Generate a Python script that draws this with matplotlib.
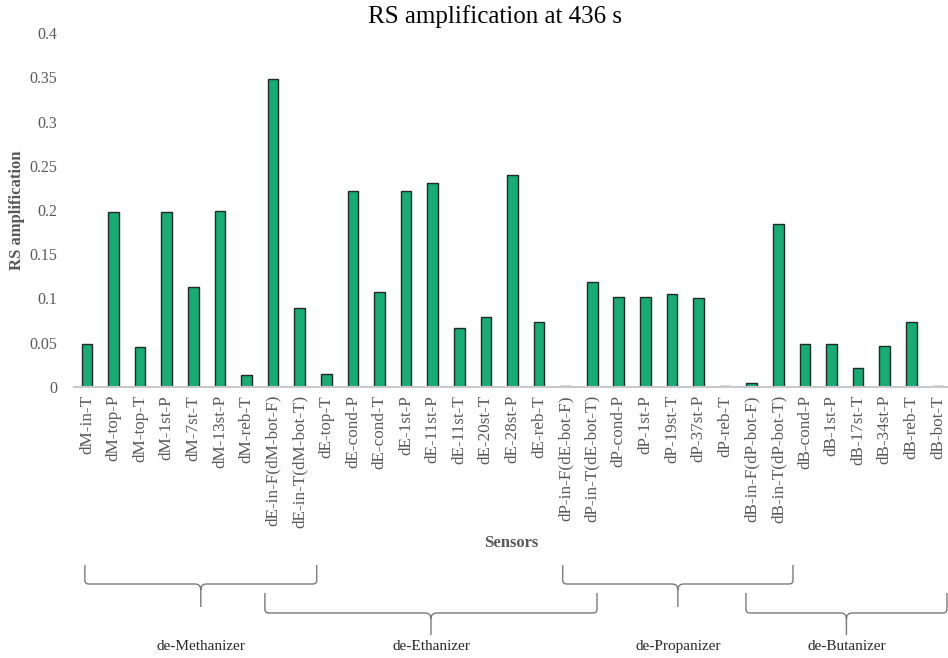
import matplotlib
matplotlib.use("Agg")
import matplotlib.pyplot as plt
import matplotlib.transforms as mtransforms
from matplotlib.path import Path
from matplotlib.patches import PathPatch
import numpy as np

plt.rcParams['font.family'] = ['Liberation Serif', 'DejaVu Serif']

# sensor names and RS amplification values
sensors = [
    "dM-in-T", "dM-top-P", "dM-top-T", "dM-1st-P", "dM-7st-T", "dM-13st-P",
    "dM-reb-T", "dE-in-F(dM-bot-F)", "dE-in-T(dM-bot-T)", "dE-top-T",
    "dE-cond-P", "dE-cond-T", "dE-1st-P", "dE-11st-P", "dE-11st-T",
    "dE-20st-T", "dE-28st-P", "dE-reb-T", "dP-in-F(dE-bot-F)",
    "dP-in-T(dE-bot-T)", "dP-cond-P", "dP-1st-P", "dP-19st-T", "dP-37st-P",
    "dP-reb-T", "dB-in-F(dP-bot-F)", "dB-in-T(dP-bot-T)", "dB-cond-P",
    "dB-1st-P", "dB-17st-T", "dB-34st-P", "dB-reb-T", "dB-bot-T",
]
amplification = [
    0.048, 0.198, 0.045, 0.198, 0.113, 0.199,
    0.013, 0.348, 0.089, 0.014,
    0.221, 0.107, 0.221, 0.231, 0.066,
    0.079, 0.240, 0.073, 0.001,
    0.119, 0.102, 0.102, 0.105, 0.100,
    0.001, 0.004, 0.184, 0.048,
    0.048, 0.021, 0.046, 0.073, 0.001,
]

# column groups (unit names) and the bar-index span each brace covers
units = ["de-Methanizer", "de-Ethanizer", "de-Propanizer", "de-Butanizer"]
unit_start = [-0.08, 6.69, 17.89, 24.78]
unit_end = [8.64, 19.18, 26.55, 32.34]

W, H = 948, 658
fig = plt.figure(figsize=(W / 100, H / 100), dpi=100)
ax = fig.add_axes([73.7 / W, 1 - 386.7 / H, 877.5 / W, 353.4 / H])

x = np.arange(len(sensors))
ax.bar(x, amplification, width=0.4, color="#1aab74", edgecolor="#1e2b28",
       linewidth=1.0, zorder=3)

ax.set_xlim(-0.5, len(sensors) - 0.5)
ax.set_ylim(0, 0.4)
ax.set_yticks(np.arange(0, 0.401, 0.05))
ax.set_yticklabels(["0", "0.05", "0.1", "0.15", "0.2", "0.25", "0.3", "0.35", "0.4"])
ax.set_xticks(x)
ax.set_xticklabels(sensors, rotation=90)
ax.tick_params(axis="x", length=0, pad=6, labelsize=12.3, labelcolor="#595959")
ax.tick_params(axis="y", length=0, pad=12, labelsize=11.5, labelcolor="#595959")

for side in ["top", "right", "left"]:
    ax.spines[side].set_visible(False)
ax.spines["bottom"].set_color("#c8c8c8")
ax.spines["bottom"].set_linewidth(1.5)
ax.spines["bottom"].set_zorder(4)

fig.text(495 / W, 1 - 17 / H, "RS amplification at 436 s", ha="center",
         va="center", fontsize=18, color="#000000")
fig.text(16.7 / W, 1 - 210 / H, "RS amplification", rotation=90, ha="center",
         va="center", fontsize=12, fontweight="bold", color="#595959")
fig.text(511 / W, 1 - 543 / H, "Sensors", ha="center", va="center",
         fontsize=12, fontweight="bold", color="#595959")

# curly braces under the sensor labels: x in bar units, y in figure pixels
trans = mtransforms.blended_transform_factory(ax.transData, fig.transFigure)
upper = (565, 584, 607)
lower = (593, 613, 635)
rx, ry = 0.15, 4 / H
cx, cy = 0.22, 6 / H
for k, name in enumerate(units):
    top_px, mid_px, tip_px = upper if k % 2 == 0 else lower
    ytop, yh, ytip = 1 - top_px / H, 1 - mid_px / H, 1 - tip_px / H
    x0, x1 = unit_start[k], unit_end[k]
    xm = (x0 + x1) / 2
    verts = [
        (x0, ytop), (x0, yh + ry), (x0, yh), (x0 + rx, yh),
        (xm - cx, yh), (xm, yh), (xm, yh - cy), (xm, ytip),
        (x1, ytop), (x1, yh + ry), (x1, yh), (x1 - rx, yh),
        (xm + cx, yh), (xm, yh), (xm, yh - cy),
    ]
    codes = [
        Path.MOVETO, Path.LINETO, Path.CURVE3, Path.CURVE3,
        Path.LINETO, Path.CURVE3, Path.CURVE3, Path.LINETO,
        Path.MOVETO, Path.LINETO, Path.CURVE3, Path.CURVE3,
        Path.LINETO, Path.CURVE3, Path.CURVE3,
    ]
    patch = PathPatch(Path(verts, codes), transform=trans, facecolor="none",
                      edgecolor="#7a7a7a", linewidth=1.0, clip_on=False)
    fig.add_artist(patch)
    ax.text(xm, 1 - 650 / H, name, transform=trans, ha="center", va="baseline",
            fontsize=11, color="#262626")

fig.savefig("out.png", dpi=100)
